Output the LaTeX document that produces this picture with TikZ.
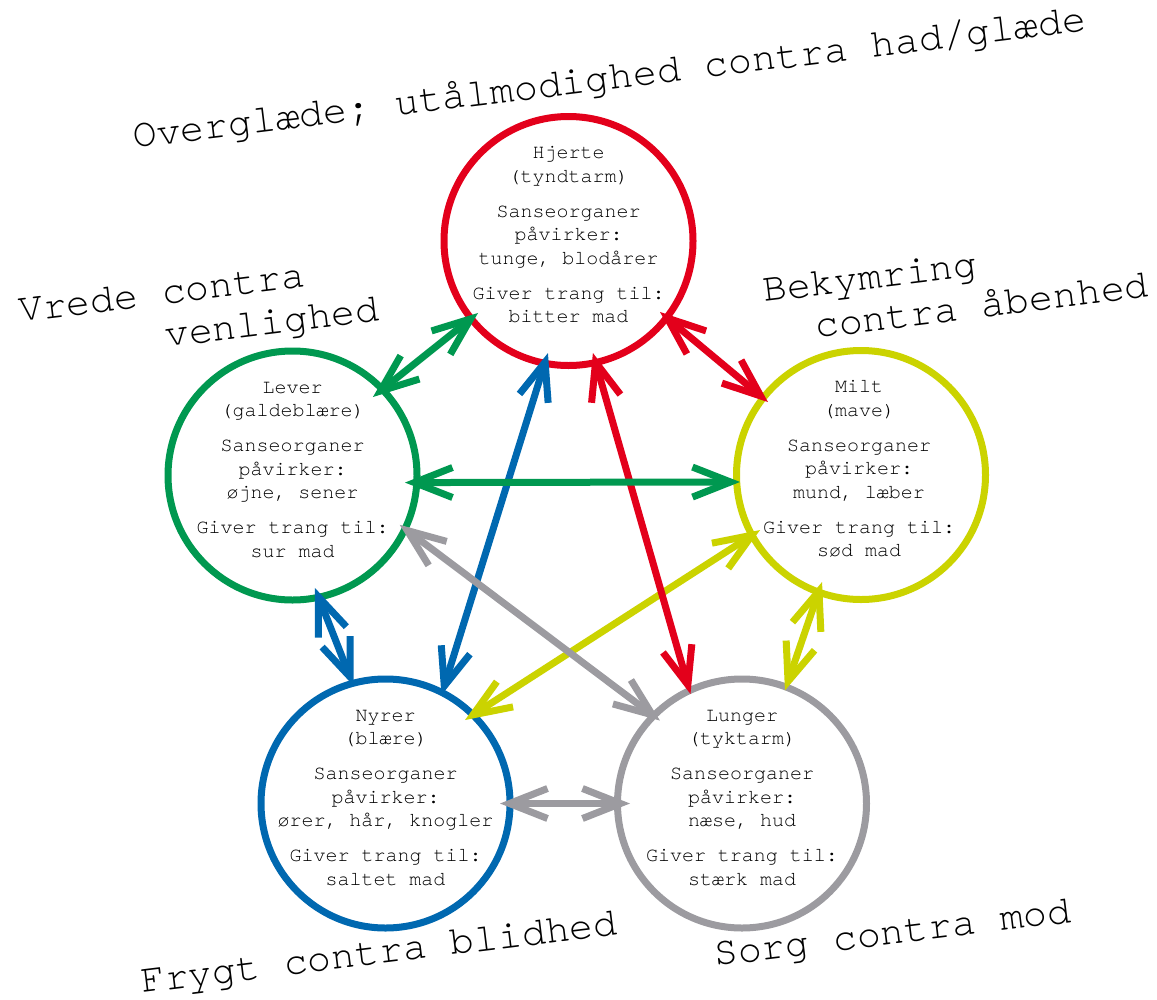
\documentclass[tikz,border=0pt]{standalone}
\usepackage{fontspec}
\newfontfamily\monofam{TeX Gyre Cursor}
\usetikzlibrary{arrows.meta,calc}
\definecolor{cred}{RGB}{227,0,27}
\definecolor{cgreen}{RGB}{0,152,80}
\definecolor{cyellow}{RGB}{203,211,0}
\definecolor{cblue}{RGB}{0,104,176}
\definecolor{cgray}{RGB}{156,155,160}
\tikzset{
  organ/.style={circle, draw, line width=7pt, minimum size=249pt, inner sep=0pt, outer sep=0pt},
  organtext/.style={align=center, inner sep=0pt, font=\monofam\fontsize{20}{23.5}\selectfont},
  emotion/.style={rotate=7, anchor=base west, inner sep=0pt, font=\monofam\fontsize{40}{44}\selectfont},
  dbl/.style={line width=7pt, {Straight Barb[length=38pt,width=30pt]}-{Straight Barb[length=38pt,width=30pt]}}
}
\begin{document}
\begin{tikzpicture}[x=1pt,y=1pt]
\useasboundingbox (0,0) rectangle (1157,-999);
% circles
\node[organ, draw=cred]    (hjerte) at (568.5,-241) {};
\node[organ, draw=cgreen]  (lever)  at (292.5,-475.5) {};
\node[organ, draw=cyellow] (milt)   at (861,-475) {};
\node[organ, draw=cblue]   (nyrer)  at (385.5,-803.5) {};
\node[organ, draw=cgray]   (lunger) at (742,-803.5) {};
% texts
\node[organtext] (thjerte) at (568.5,-235.8) {\strut Hjerte\\\strut(tyndtarm)\\[11.5pt]\strut Sanseorganer\\\strut påvirker:\\\strut tunge, blodårer\\[11.5pt]\strut Giver trang til:\\\strut bitter mad};
\node[organtext] (tlever) at (292.5,-470.3) {\strut Lever\\\strut(galdeblære)\\[11.5pt]\strut Sanseorganer\\\strut påvirker:\\\strut øjne, sener\\[11.5pt]\strut Giver trang til:\\\strut sur mad};
\node[organtext] (tmilt) at (859,-469.8) {\strut Milt\\\strut(mave)\\[11.5pt]\strut Sanseorganer\\\strut påvirker:\\\strut mund, læber\\[11.5pt]\strut Giver trang til:\\\strut sød mad};
\node[organtext] (tnyrer) at (385.5,-798.3) {\strut Nyrer\\\strut(blære)\\[11.5pt]\strut Sanseorganer\\\strut påvirker:\\\strut ører, hår, knogler\\[11.5pt]\strut Giver trang til:\\\strut saltet mad};
\node[organtext] (tlunger) at (742,-798.3) {\strut Lunger\\\strut(tyktarm)\\[11.5pt]\strut Sanseorganer\\\strut påvirker:\\\strut næse, hud\\[11.5pt]\strut Giver trang til:\\\strut stærk mad};
% emotions
\node[emotion] (e1) at (134,-148) {Overglæde; utålmodighed contra had/glæde};
\node[emotion] (e2a) at (20,-322) {Vrede contra};
\node[emotion] (e2b) at (166,-347) {venlighed};
\node[emotion] (e3a) at (764,-302) {Bekymring};
\node[emotion] (e3b) at (816,-338) {contra åbenhed};
\node[emotion] (e4) at (142,-993) {Frygt contra blidhed};
\node[emotion] (e5) at (715,-966) {Sorg contra mod};
% connectors
\draw[dbl, cyellow] ($(milt)+(208.6:115)$) -- ($(nyrer)+(46.4:115.3)$);
\draw[dbl, cblue]   ($(hjerte)+(259.6:113.9)$) -- ($(nyrer)+(62.7:122)$);
\draw[dbl, cred]    ($(hjerte)+(282.3:114.6)$) -- ($(lunger)+(115.2:121)$);
\draw[dbl, cgray]   ($(lever)+(-24.7:118)$) -- ($(lunger)+(134.7:116.7)$);
\draw[dbl, cgreen]  ($(lever)+(-3.6:112.7)$) -- ($(milt)+(183.3:121.2)$);
\draw[dbl, cgreen]  ($(lever)+(44.3:112.4)$) -- ($(hjerte)+(218.5:115.6)$);
\draw[dbl, cred]    ($(hjerte)+(-37.8:115.8)$) -- ($(milt)+(141.9:118.2)$);
\draw[dbl, cblue]   ($(lever)+(-78.7:114.7)$) -- ($(nyrer)+(105.2:122)$);
\draw[dbl, cyellow] ($(milt)+(250:113.9)$) -- ($(lunger)+(69.2:121)$);
\draw[dbl, cgray]   ($(nyrer)+(0:114.5)$) -- ($(lunger)+(180:112)$);
\end{tikzpicture}
\end{document}
